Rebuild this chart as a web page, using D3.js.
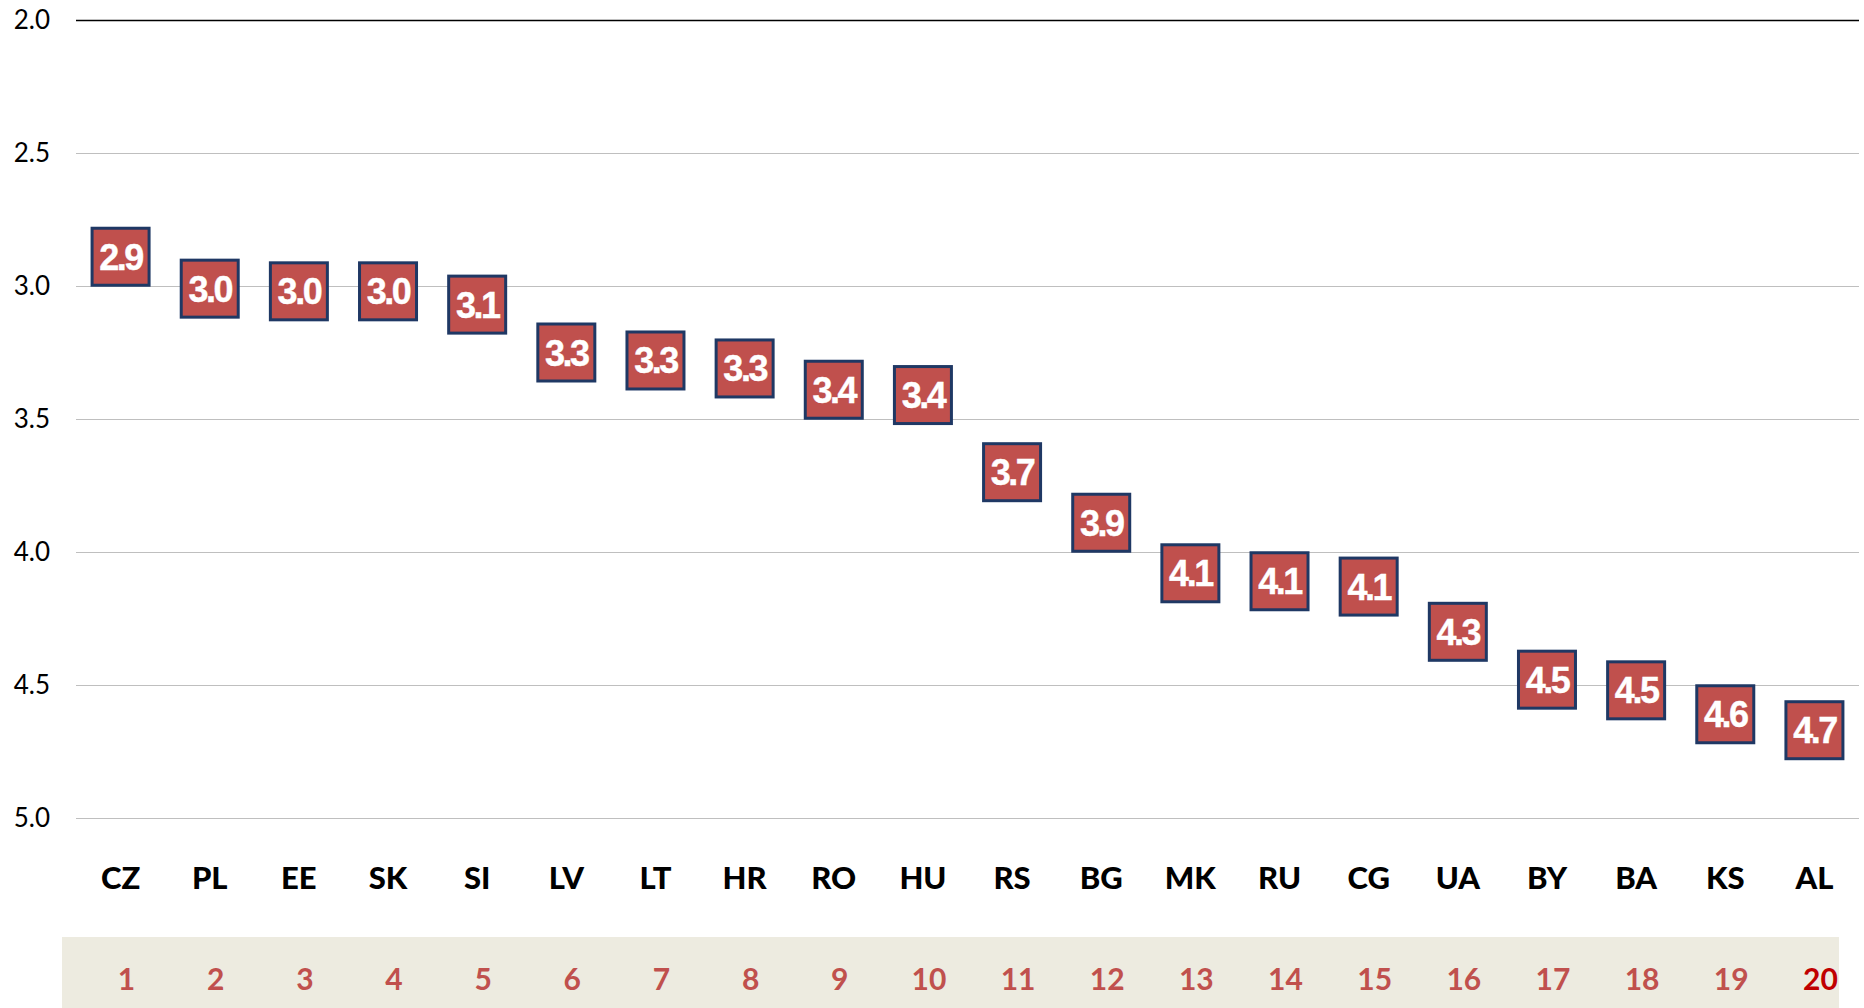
<!DOCTYPE html>
<html>
<head>
<meta charset="utf-8">
<script src="https://cdn.jsdelivr.net/npm/d3@7"></script>
<style>
  body { margin: 0; background: #fff; }
  svg { display: block; }
</style>
</head>
<body>
<div id="chart"></div>
<script>
// datos
const paises = ["CZ","PL","EE","SK","SI","LV","LT","HR","RO","HU","RS","BG","MK","RU","CG","UA","BY","BA","KS","AL"];
const valores = [2.89,3.01,3.02,3.02,3.07,3.25,3.28,3.31,3.39,3.41,3.70,3.89,4.08,4.11,4.13,4.30,4.48,4.52,4.61,4.67];
const etiquetas = ["2.9","3.0","3.0","3.0","3.1","3.3","3.3","3.3","3.4","3.4","3.7","3.9","4.1","4.1","4.1","4.3","4.5","4.5","4.6","4.7"];
const rangos = ["1","2","3","4","5","6","7","8","9","10","11","12","13","14","15","16","17","18","19","20"];
const yTicks = [2.0, 2.5, 3.0, 3.5, 4.0, 4.5, 5.0];

const width = 1864;
const height = 1008;
const margin = { top: 20, right: 5, bottom: 190, left: 76 };
const box = 57;

const svg = d3.select("#chart")
    .append("svg")
    .attr("width", width)
    .attr("height", height);

// escalas
const x = d3.scaleBand()
    .domain(paises)
    .range([margin.left, width - margin.right])
    .padding(0);

const y = d3.scaleLinear()
    .domain([2, 5])
    .range([margin.top, height - margin.bottom]);

// lineas de cuadricula + etiquetas del eje Y
const yAxis = svg.append("g")
    .attr("transform", `translate(${margin.left},0)`)
    .call(d3.axisLeft(y).tickValues(yTicks).tickFormat(d3.format(".1f"))
        .tickSize(-(width - margin.right - margin.left)).tickPadding(26));
yAxis.select(".domain").remove();
yAxis.selectAll(".tick line")
    .attr("stroke", d => d === 2 ? "#000" : "#bfbfbf")
    .attr("stroke-width", d => d === 2 ? 1.5 : 1.2);
yAxis.selectAll(".tick text")
    .attr("fill", "#000")
    .style("font-family", "Lato, 'Open Sans', sans-serif")
    .style("font-size", "26px");

// etiquetas de paises
const xAxis = svg.append("g")
    .attr("transform", `translate(0,${y(5)})`)
    .call(d3.axisBottom(x).tickSize(0).tickPadding(0));
xAxis.select(".domain").remove();
xAxis.selectAll(".tick text")
    .attr("y", 71)
    .attr("dy", 0)
    .attr("fill", "#000")
    .style("font-family", "Lato, 'Open Sans', sans-serif")
    .style("font-weight", "900")
    .style("font-size", "31px");

// banda de rangos
svg.append("rect")
    .attr("x", 62)
    .attr("y", 937)
    .attr("width", 1777)
    .attr("height", height - 937)
    .attr("fill", "#edebe0");

svg.append("g")
    .selectAll("text")
    .data(rangos)
    .join("text")
    .attr("x", (d, i) => x(paises[i]) + x.bandwidth() / 2 + 6)
    .attr("y", 990)
    .attr("text-anchor", "middle")
    .attr("fill", (d, i) => i === rangos.length - 1 ? "#c00000" : "#c0504d")
    .style("font-family", "Lato, 'Open Sans', sans-serif")
    .style("font-weight", "bold")
    .style("font-size", "30px")
    .text(d => d);

// marcadores cuadrados
const g = svg.append("g")
    .selectAll("g")
    .data(valores)
    .join("g")
    .attr("transform", (d, i) => `translate(${x(paises[i]) + x.bandwidth() / 2},${y(d)})`);

g.append("rect")
    .attr("x", -box / 2)
    .attr("y", -box / 2)
    .attr("width", box)
    .attr("height", box)
    .attr("fill", "#c0504d")
    .attr("stroke", "#1f3864")
    .attr("stroke-width", 3);

g.append("text")
    .attr("y", 13)
    .attr("text-anchor", "middle")
    .attr("fill", "#fff")
    .attr("stroke", "#fff")
    .attr("stroke-width", 0.4)
    .style("font-family", "'Liberation Sans', Arial, sans-serif")
    .style("font-weight", "bold")
    .style("font-size", "36px")
    .style("letter-spacing", "-2.5px")
    .text((d, i) => etiquetas[i]);
</script>
</body>
</html>
